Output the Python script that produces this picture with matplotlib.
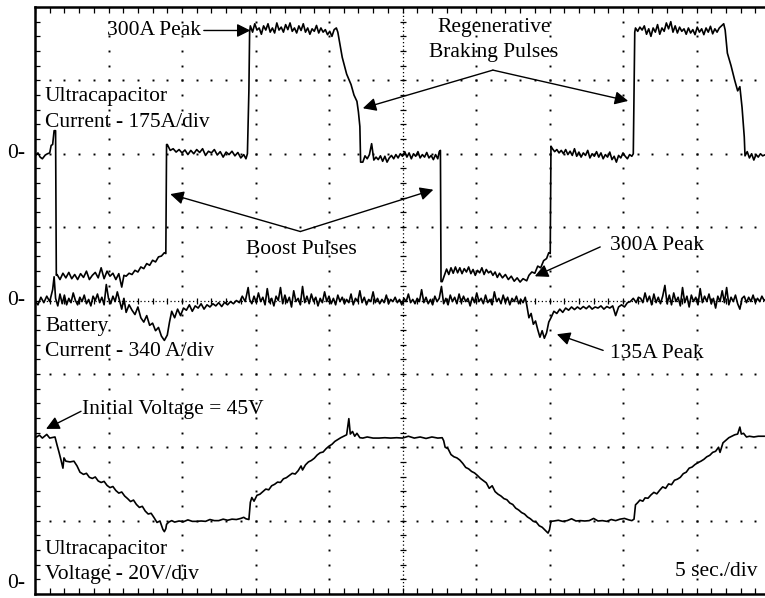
import matplotlib
matplotlib.use("Agg")
import matplotlib.pyplot as plt
import numpy as np
from matplotlib.transforms import blended_transform_factory

plt.rcParams['font.family'] = ['Liberation Serif', 'DejaVu Serif']

# scope settings
sec_per_div = 5.0
uc_amp_per_div, uc_zero_div = 175.0, 6.0
bat_amp_per_div, bat_zero_div = 340.0, 4.0
volt_per_div, volt_zero_div = 20.0, 0.0

# ultracapacitor current (time s, amps)
uc_trace = [
    (0.0, -5), (0.2, 2), (0.35, -8), (0.5, -12), (0.7, -3), (0.85, 0), (1.0, 2), (1.1, 20), (1.2, 22),
    (1.3, 55), (1.4, 55), (1.45, -290),
    (1.5, -288), (1.7, -300), (1.9, -285), (2.1, -296), (2.3, -283), (2.5, -298), (2.7, -288), (2.9, -300),
    (3.1, -286), (3.3, -295), (3.5, -280), (3.7, -300), (3.9, -290), (4.1, -283), (4.3, -296), (4.5, -272),
    (4.7, -298), (4.9, -280), (5.1, -292), (5.3, -285), (5.5, -300), (5.7, -286), (5.9, -318), (6.05, -290),
    (6.2, -292), (6.4, -285), (6.6, -288), (6.8, -278), (7.0, -282), (7.2, -270), (7.4, -274), (7.6, -262),
    (7.8, -266), (8.0, -254), (8.2, -258), (8.4, -246), (8.6, -244), (8.8, -236), (8.9, -238), (8.95, 22),
    (9.0, 22), (9.2, 8), (9.4, 12), (9.6, 4), (9.8, 10), (10.0, 2), (10.2, 9), (10.4, -2), (10.6, 8),
    (10.8, 0), (11.0, 10), (11.2, 3), (11.4, 12), (11.6, -4), (11.8, 6), (12.0, 2), (12.2, 10), (12.4, -3),
    (12.6, 5), (12.8, -8), (13.0, 4), (13.2, -2), (13.4, 6), (13.6, -5), (13.8, 3), (14.0, -10), (14.2, -2),
    (14.35, -12), (14.45, 0), (14.55, 150), (14.6, 290),
    (14.65, 305), (14.8, 290), (14.95, 310), (15.1, 295), (15.25, 300), (15.4, 285), (15.55, 305), (15.7, 295),
    (15.85, 310), (16.0, 290), (16.15, 300), (16.3, 288), (16.45, 312), (16.6, 295), (16.75, 302), (16.9, 290),
    (17.05, 308), (17.2, 296), (17.35, 312), (17.5, 292), (17.65, 300), (17.8, 288), (17.95, 305), (18.1, 294),
    (18.25, 310), (18.4, 290), (18.55, 300), (18.7, 285), (18.85, 298), (19.0, 292), (19.15, 306), (19.3, 288),
    (19.45, 300), (19.6, 290), (19.75, 296), (19.9, 284), (20.05, 292), (20.2, 280), (20.35, 296), (20.5, 300),
    (20.6, 290), (20.9, 230), (21.2, 190), (21.5, 165), (21.7, 140), (21.9, 125), (22.0, 100), (22.1, 65),
    (22.15, -20),
    (22.3, -20), (22.45, -5), (22.6, -12), (22.75, -2), (22.9, 24), (23.05, -15), (23.2, -8), (23.35, -14),
    (23.5, -5), (23.65, -18), (23.8, -6), (23.95, -20), (24.1, -10), (24.25, -4), (24.4, -12), (24.55, -2),
    (24.7, -10), (24.85, 0), (25.0, -6), (25.15, 5), (25.3, -8), (25.45, 2), (25.6, -12), (25.75, 0),
    (25.9, -6), (26.05, 5), (26.2, -10), (26.35, -2), (26.5, -8), (26.65, 3), (26.8, -10), (26.95, -4),
    (27.1, -14), (27.25, -2), (27.4, -12), (27.5, 5), (27.58, 8), (27.62, -305),
    (27.7, -305), (27.85, -290), (28.0, -275), (28.15, -288), (28.3, -272), (28.45, -285), (28.6, -270),
    (28.75, -284), (28.9, -272), (29.05, -286), (29.2, -274), (29.35, -282), (29.5, -270), (29.65, -286),
    (29.8, -276), (29.95, -290), (30.1, -278), (30.25, -284), (30.4, -272), (30.55, -288), (30.7, -276),
    (30.85, -284), (31.0, -280), (31.15, -290), (31.3, -282), (31.45, -295), (31.6, -285), (31.8, -296),
    (32.0, -288), (32.2, -300), (32.4, -292), (32.6, -304), (32.8, -296), (33.0, -306), (33.2, -298),
    (33.45, -303), (33.6, -290), (33.8, -282), (34.0, -285), (34.2, -268), (34.4, -272), (34.6, -255),
    (34.8, -250), (34.95, -236), (35.05, -238), (35.1, 18),
    (35.2, 12), (35.35, 5), (35.5, 10), (35.65, 2), (35.8, 8), (35.95, 0), (36.1, 10), (36.25, -2), (36.4, 6),
    (36.55, -4), (36.7, 12), (36.85, -6), (37.0, 4), (37.15, -8), (37.3, 2), (37.45, -4), (37.6, 8),
    (37.75, -10), (37.9, 0), (38.05, -6), (38.2, 5), (38.35, -8), (38.5, 2), (38.65, -12), (38.8, -2),
    (38.95, -8), (39.1, 4), (39.25, -14), (39.4, -6), (39.55, -20), (39.7, -4), (39.85, -10), (40.0, 2),
    (40.15, -6), (40.3, -12), (40.45, -2), (40.6, -6), (40.7, 0), (40.75, 150), (40.8, 290),
    (40.85, 300), (41.0, 292), (41.15, 302), (41.3, 295), (41.45, 305), (41.6, 285), (41.75, 298), (41.9, 280),
    (42.05, 300), (42.2, 290), (42.35, 308), (42.5, 285), (42.65, 300), (42.8, 292), (42.95, 312), (43.1, 298),
    (43.25, 315), (43.4, 290), (43.55, 305), (43.7, 288), (43.85, 302), (44.0, 292), (44.15, 298), (44.3, 285),
    (44.45, 300), (44.6, 288), (44.75, 296), (44.9, 284), (45.05, 302), (45.2, 290), (45.35, 298), (45.5, 284),
    (45.65, 300), (45.8, 290), (45.95, 304), (46.1, 286), (46.25, 298), (46.4, 290), (46.55, 300), (46.7, 305),
    (46.85, 310),
    (46.95, 295), (47.1, 240), (47.35, 210), (47.6, 175), (47.8, 150), (47.95, 160), (48.1, 110), (48.25, 40),
    (48.3, -5), (48.45, 5), (48.6, -10), (48.75, 0), (48.9, -15), (49.05, -2), (49.2, -8), (49.35, 0),
    (49.5, -5), (49.7, -2),
]

# battery current (time s, amps)
bat_trace = [
    (0.0, 0), (0.2, -20), (0.4, 15), (0.6, -10), (0.8, 20), (1.0, -5), (1.2, 50), (1.3, 110), (1.4, 10),
    (1.55, -25), (1.7, 30), (1.85, -15), (2.0, 25), (2.15, -20), (2.3, 10), (2.45, -10), (2.6, 35), (2.75, 0),
    (2.9, -20), (3.05, 15), (3.2, -5), (3.35, 25), (3.5, -15), (3.65, 5), (3.8, -25), (3.95, 20), (4.1, 0),
    (4.25, 30), (4.4, -10), (4.55, 15), (4.7, -20), (4.85, 74), (5.0, 10), (5.15, -15), (5.3, 20), (5.45, -5),
    (5.6, 40), (5.75, 0), (5.9, -40), (6.05, 10),
    (6.2, -55), (6.4, -20), (6.6, -45), (6.8, -65), (7.0, -30), (7.2, -80), (7.4, -100), (7.6, -70),
    (7.8, -115), (8.0, -105), (8.2, -140), (8.4, -125), (8.6, -165), (8.8, -185), (9.0, -160), (9.15, -100),
    (9.3, -50), (9.5, -80), (9.7, -40), (9.9, -70), (10.1, -35), (10.3, -45), (10.5, -20), (10.7, -50),
    (10.9, -25), (11.1, -35), (11.3, -15), (11.5, -40), (11.7, -20), (11.9, -30), (12.1, -15), (12.3, -25),
    (12.5, -10), (12.7, -28), (12.9, -8), (13.1, -20), (13.3, -5), (13.5, -15), (13.7, 0), (13.9, -10),
    (14.1, 20), (14.3, -5), (14.5, 60), (14.6, 5),
    (14.75, -15), (14.9, 20), (15.05, -10), (15.2, 35), (15.35, -5), (15.5, 15), (15.65, -20), (15.8, 55),
    (15.95, -10), (16.1, 10), (16.25, -25), (16.4, 20), (16.55, 0), (16.7, 60), (16.85, -15), (17.0, 25),
    (17.15, -10), (17.3, 15), (17.45, -30), (17.6, 45), (17.75, -5), (17.9, 10), (18.05, -20), (18.2, 65),
    (18.35, -10), (18.5, 20), (18.65, -15), (18.8, 30), (18.95, -5), (19.1, 15), (19.25, -25), (19.4, 10),
    (19.55, -10), (19.7, 40), (19.85, -5), (20.0, 20), (20.15, -15), (20.3, 10), (20.45, -20), (20.6, 25),
    (20.75, -5), (20.9, 15), (21.05, -15), (21.2, 5), (21.35, -10), (21.5, 30), (21.65, -20), (21.8, 10),
    (21.95, -5), (22.1, 45), (22.25, -10), (22.4, 15), (22.55, -20), (22.7, 5), (22.85, -5), (23.0, 40),
    (23.15, -10), (23.3, 10), (23.45, -15), (23.6, 5), (23.75, -10), (23.9, 25), (24.05, -15), (24.2, 5),
    (24.35, -5), (24.5, 15), (24.65, -10), (24.8, 5), (24.95, -20), (25.1, 10), (25.25, -5), (25.4, 30),
    (25.55, -10), (25.7, 5), (25.85, -15), (26.0, 10), (26.15, -5), (26.3, 50), (26.45, -10), (26.6, 15),
    (26.75, -15), (26.9, 5), (27.05, -20), (27.2, 20), (27.35, -5), (27.5, 10), (27.65, 65), (27.8, -15),
    (27.95, 10), (28.1, -20), (28.25, 25), (28.4, -5), (28.55, 15), (28.7, -15), (28.85, 30), (29.0, -10),
    (29.15, 20), (29.3, -5), (29.45, 10), (29.6, -25), (29.75, 15), (29.9, -10), (30.05, 35), (30.2, -5),
    (30.35, 10), (30.5, -15), (30.65, 25), (30.8, -10), (30.95, 5), (31.1, -20), (31.25, 40), (31.4, -5),
    (31.55, 10), (31.7, -15), (31.85, 25), (32.0, -10), (32.15, 15), (32.3, -20), (32.45, 10), (32.6, -5),
    (32.75, 20), (32.9, -15), (33.05, 5), (33.2, -10), (33.35, 15),
    (33.45, -20), (33.6, -80), (33.75, -60), (33.9, -110), (34.05, -95), (34.2, -135), (34.35, -170),
    (34.5, -140), (34.65, -175), (34.8, -150), (34.95, -100), (35.1, -80), (35.3, -50), (35.5, -60),
    (35.7, -40), (35.9, -55), (36.1, -35), (36.3, -45), (36.5, -30), (36.7, -42), (36.9, -30), (37.1, -40),
    (37.3, -28), (37.5, -38), (37.7, -25), (37.9, -40), (38.1, -30), (38.3, -35), (38.5, -25), (38.7, -40),
    (38.9, -28), (39.1, -35), (39.3, -25), (39.5, -70), (39.7, -30), (39.9, -20), (40.1, -30), (40.3, -10),
    (40.5, -5), (40.7, 10), (40.9, -10), (41.05, 15),
    (41.2, 10), (41.35, -10), (41.5, 35), (41.65, -5), (41.8, 20), (41.95, -20), (42.1, 30), (42.25, -10),
    (42.4, 15), (42.55, -15), (42.7, 20), (42.85, 70), (43.0, -15), (43.15, 25), (43.3, -20), (43.45, 35),
    (43.6, -5), (43.75, 15), (43.9, -25), (44.05, 60), (44.2, -10), (44.35, 20), (44.5, -30), (44.65, 25),
    (44.8, -5), (44.95, 15), (45.1, -20), (45.25, 55), (45.4, -10), (45.55, 20), (45.7, -5), (45.85, 30),
    (46.0, -15), (46.15, 10), (46.3, -35), (46.45, 20), (46.6, -5), (46.75, 45), (46.9, -10), (47.05, 60),
    (47.2, -20), (47.35, 15), (47.5, -5), (47.65, 25), (47.8, -15), (47.95, -40), (48.1, 10), (48.25, 20),
    (48.4, -10), (48.55, 15), (48.7, -5), (48.85, 25), (49.0, -10), (49.15, 10), (49.3, -5), (49.45, 20),
    (49.6, 0), (49.7, 5),
]

# ultracapacitor voltage (time s, volts)
volt_trace = [
    (0.0, 42.5), (0.3, 43.3), (0.5, 42.5), (0.8, 43.5), (1.0, 42.5), (1.36, 42.8),
    (1.5, 40.6), (1.63, 38.7), (1.77, 36.5), (1.9, 34.3), (1.97, 37.1), (2.1, 36.2), (2.38, 36.0),
    (2.65, 36.2), (2.86, 34.9), (3.06, 33.2), (3.3, 32.6), (3.5, 32.9), (3.7, 31.8), (3.9, 31.5), (4.1, 31.9),
    (4.3, 30.8), (4.5, 30.4), (4.7, 30.7), (4.9, 29.6), (5.1, 29.0), (5.3, 29.3), (5.5, 28.2), (5.7, 27.5),
    (5.9, 27.8), (6.1, 26.7), (6.3, 26.0), (6.5, 25.2), (6.7, 25.6), (6.9, 24.4), (7.1, 23.6), (7.3, 23.9),
    (7.5, 22.6), (7.7, 21.8), (7.9, 22.0), (8.1, 20.8), (8.3, 19.5), (8.5, 19.9), (8.7, 17.6), (8.8, 17.0),
    (8.9, 17.8), (8.95, 19.0), (9.1, 19.6), (9.3, 20.0), (9.5, 19.6), (9.8, 19.9), (10.1, 19.7), (10.4, 20.2),
    (10.7, 19.8), (11.0, 19.8), (11.3, 19.9), (11.6, 19.8), (11.9, 20.3), (12.2, 20.0), (12.5, 20.0),
    (12.8, 20.4), (13.1, 20.1), (13.4, 20.4), (13.7, 20.3), (14.0, 20.6), (14.2, 20.9), (14.35, 20.5),
    (14.55, 20.3), (14.65, 25.0), (14.75, 26.3), (14.9, 25.3), (15.1, 26.9), (15.3, 27.2), (15.5, 27.9),
    (15.7, 28.6), (15.9, 28.4), (16.1, 29.5), (16.3, 29.9), (16.5, 30.5), (16.7, 30.4), (16.9, 31.4),
    (17.1, 31.7), (17.3, 32.3), (17.5, 32.9), (17.7, 32.7), (17.9, 33.6), (18.1, 34.9), (18.2, 33.8),
    (18.4, 35.2), (18.6, 36.0), (18.8, 36.4), (19.0, 37.0), (19.2, 37.9), (19.4, 38.5), (19.6, 38.7),
    (19.8, 39.6), (20.0, 40.3), (20.2, 40.8), (20.4, 41.6), (20.6, 42.1), (20.8, 42.6), (21.0, 43.0),
    (21.2, 43.4), (21.35, 47.8), (21.45, 43.6), (21.6, 44.3), (21.75, 43.0), (21.9, 43.8), (22.1, 42.6),
    (22.3, 42.5), (22.6, 42.8), (23.0, 42.5), (23.4, 42.5), (23.8, 42.6), (24.2, 42.5), (24.6, 42.6),
    (25.0, 42.5), (25.4, 43.0), (25.8, 42.5), (26.2, 42.8), (26.6, 42.4), (27.0, 42.8), (27.4, 42.5),
    (27.7, 42.6), (27.8, 41.8), (27.9, 40.0), (28.1, 39.6), (28.3, 38.0), (28.5, 37.4), (28.7, 37.1),
    (28.9, 36.5), (29.1, 35.6), (29.3, 34.5), (29.5, 34.1), (29.7, 33.4), (29.9, 33.0), (30.1, 32.3),
    (30.3, 31.5), (30.5, 30.9), (30.7, 30.3), (30.9, 28.8), (31.1, 29.5), (31.3, 27.9), (31.5, 27.2),
    (31.7, 26.7), (31.9, 26.0), (32.1, 25.7), (32.3, 24.8), (32.5, 24.4), (32.7, 23.4), (32.9, 22.9),
    (33.1, 22.2), (33.3, 21.8), (33.5, 21.0), (33.7, 20.5), (33.9, 19.8), (34.1, 19.6), (34.3, 18.6),
    (34.5, 18.2), (34.7, 17.4), (34.9, 16.6), (35.0, 17.5), (35.1, 19.8), (35.3, 19.9), (35.6, 20.1),
    (35.9, 19.8), (36.2, 20.0), (36.5, 20.5), (36.8, 19.9), (37.1, 20.0), (37.4, 19.9), (37.7, 20.0),
    (38.0, 20.6), (38.3, 19.9), (38.6, 20.0), (38.9, 19.8), (39.2, 20.3), (39.5, 20.0), (39.8, 20.4),
    (40.1, 20.6), (40.4, 20.2), (40.6, 20.0), (40.75, 20.4), (40.85, 24.3), (41.0, 24.9), (41.15, 25.6),
    (41.35, 25.3), (41.5, 26.2), (41.7, 26.1), (41.9, 27.0), (42.1, 27.7), (42.3, 27.3), (42.5, 28.3),
    (42.7, 29.2), (42.9, 28.8), (43.1, 30.0), (43.3, 29.8), (43.5, 31.0), (43.7, 31.3), (43.9, 31.8),
    (44.1, 32.8), (44.3, 33.2), (44.5, 34.3), (44.7, 34.6), (44.9, 35.3), (45.1, 35.8), (45.3, 36.2),
    (45.5, 36.7), (45.7, 37.4), (45.9, 37.8), (46.1, 38.6), (46.3, 38.9), (46.5, 40.0), (46.6, 38.6),
    (46.8, 41.2), (47.0, 41.9), (47.2, 42.6), (47.4, 43.0), (47.6, 43.4), (47.8, 43.6), (47.95, 45.5),
    (48.05, 43.6), (48.2, 43.8), (48.4, 42.8), (48.6, 43.0), (48.9, 42.8), (49.2, 43.0), (49.6, 43.0),
]


def to_div(trace, per_div, zero_div):
    arr = np.array(trace, dtype=float)
    return arr[:, 0] / sec_per_div, zero_div + arr[:, 1] / per_div


fig = plt.figure(figsize=(7.65, 5.98), dpi=100)
ax = fig.add_axes([35 / 765, 4 / 598, 1 - 35 / 765, 587 / 598])
x_max = (765 - 35) / 73.5
ax.set_xlim(0, x_max)
ax.set_ylim(0, 8)
ax.set_xticks([])
ax.set_yticks([])
for side in ['left', 'top', 'bottom']:
    ax.spines[side].set_linewidth(1.8)
ax.spines['right'].set_visible(False)

# graticule: dots every minor division on the major lines
minor = np.arange(0, 50) / 5.0
ys = minor[minor <= 8]
xs = minor[minor <= x_max]
for k in range(1, 10):
    if k != 5:
        ax.plot(np.full(len(ys), k), ys, ls='none', marker='s', ms=1.4, color='black', mew=0)
for j in range(1, 8):
    if j != 4:
        ax.plot(xs, np.full(len(xs), j), ls='none', marker='s', ms=1.4, color='black', mew=0)

# center axes: fine dotted lines with minor ticks
ax.axvline(5, color='black', lw=0.9, ls=(0, (1, 2)))
ax.axhline(4, color='black', lw=0.9, ls=(0, (1, 2)))
ax.plot(np.full(len(ys), 5), ys, ls='none', marker='_', ms=5, mew=0.9, color='black')
ax.plot(xs, np.full(len(xs), 4), ls='none', marker='|', ms=5, mew=0.9, color='black')
# border ticks
ax.plot(np.full(len(ys), 0.03), ys, ls='none', marker='_', ms=4, mew=0.9, color='black')
ax.plot(xs, np.full(len(xs), 0.04), ls='none', marker='|', ms=4, mew=0.9, color='black')
ax.plot(xs, np.full(len(xs), 7.96), ls='none', marker='|', ms=4, mew=0.9, color='black')

# traces
for trace, per_div, zero in [(uc_trace, uc_amp_per_div, uc_zero_div),
                             (bat_trace, bat_amp_per_div, bat_zero_div),
                             (volt_trace, volt_per_div, volt_zero_div)]:
    x, y = to_div(trace, per_div, zero)
    ax.plot(x, y, color='black', lw=1.2)

fs = 15.5
# zero markers left of the screen
trans = blended_transform_factory(fig.transFigure, ax.transData)
for zero in [uc_zero_div, bat_zero_div]:
    ax.text(7 / 765, zero, '0-', transform=trans, fontsize=fs, va='center', ha='left', clip_on=False)
ax.text(7 / 765, volt_zero_div + 0.14, '0-', transform=trans, fontsize=fs, va='center', ha='left',
        clip_on=False)

ax.text(0.136, 6.78, 'Ultracapacitor', fontsize=fs, va='center')
ax.text(0.136, 6.43, 'Current - 175A/div', fontsize=fs, va='center')
ax.text(0.136, 3.64, 'Battery', fontsize=fs, va='center')
ax.text(0.136, 3.30, 'Current - 340 A/div', fontsize=fs, va='center')
ax.text(0.136, 0.61, 'Ultracapacitor', fontsize=fs, va='center')
ax.text(0.136, 0.27, 'Voltage - 20V/div', fontsize=fs, va='center')
ax.text(8.71, 0.31, '5 sec./div', fontsize=fs, va='center')
ax.text(6.245, 7.72, 'Regenerative', fontsize=fs, va='center', ha='center')
ax.text(6.245, 7.38, 'Braking Pulses', fontsize=fs, va='center', ha='center')
ax.text(3.63, 4.69, 'Boost Pulses', fontsize=fs, va='center', ha='center')

arrow = dict(arrowstyle='-|>', mutation_scale=20, lw=1.0, color='black', shrinkA=0, shrinkB=0)
ax.annotate('300A Peak', xy=(2.93, 7.68), xytext=(0.98, 7.68), fontsize=fs, va='center',
            arrowprops=arrow)
ax.annotate('', xy=(4.46, 6.62), xytext=(6.23, 7.14), arrowprops=arrow)
ax.annotate('', xy=(8.07, 6.72), xytext=(6.23, 7.14), arrowprops=arrow)
ax.annotate('', xy=(1.84, 5.45), xytext=(3.61, 4.94), arrowprops=arrow)
ax.annotate('', xy=(5.42, 5.51), xytext=(3.61, 4.94), arrowprops=arrow)
ax.text(7.82, 4.75, '300A Peak', fontsize=fs, va='center')
ax.annotate('', xy=(6.80, 4.33), xytext=(7.69, 4.73), arrowprops=arrow)
ax.text(7.82, 3.28, '135A Peak', fontsize=fs, va='center')
ax.annotate('', xy=(7.10, 3.54), xytext=(7.73, 3.32), arrowprops=arrow)
ax.text(0.64, 2.52, 'Initial Voltage = 45V', fontsize=fs, va='center')
ax.annotate('', xy=(0.15, 2.25), xytext=(0.626, 2.49), arrowprops=arrow)

fig.savefig('out.png', dpi=100)
